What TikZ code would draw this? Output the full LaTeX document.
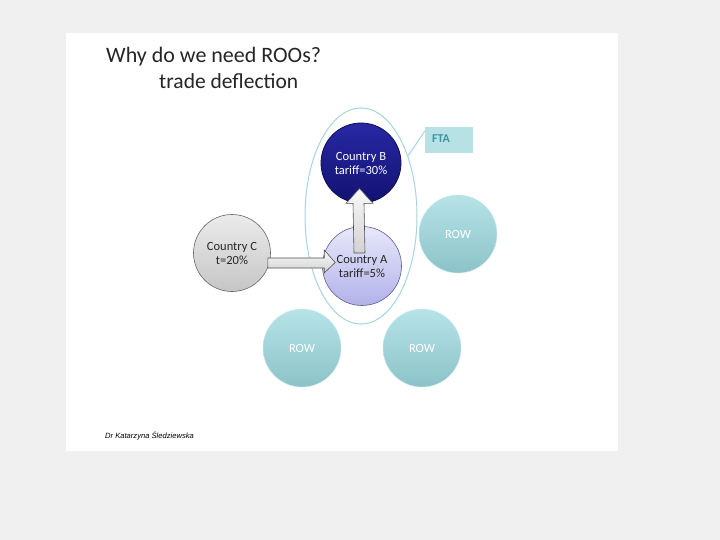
\documentclass[tikz,border=0pt]{standalone}
\usepackage{fontspec}
\setmainfont{Carlito}
\newfontfamily\footfont{Liberation Sans}
\usetikzlibrary{calc}
\definecolor{pagebg}{HTML}{F0F0F0}
\definecolor{rowtop}{HTML}{B6E3E7}
\definecolor{rowbot}{HTML}{8CC3C8}
\definecolor{ellcol}{HTML}{A6D6DB}
\definecolor{ftafill}{HTML}{B8E1E5}
\definecolor{ftatext}{HTML}{3A97A5}
\definecolor{bdark}{HTML}{14147E}
\definecolor{btop}{HTML}{2828A4}
\definecolor{atop}{HTML}{E8E8FB}
\definecolor{abot}{HTML}{B2B2EA}
\definecolor{aborder}{HTML}{5A5A9A}
\definecolor{ctop}{HTML}{EBEBEB}
\definecolor{cbot}{HTML}{C6C6C6}
\definecolor{arrline}{HTML}{505050}
\tikzset{
  country/.style={circle, minimum size=#1, inner sep=0pt, align=center,
    font=\fontsize{12.5}{14}\selectfont},
  rowcirc/.style={circle, minimum size=78pt, inner sep=0pt, top color=rowtop,
    bottom color=rowbot, draw=rowtop!70!white, line width=0.4pt, text=white,
    font=\fontsize{12.5}{14}\selectfont},
  blockarrow/.style={draw=arrline, line width=0.6pt, top color=white!95!gray,
    bottom color=gray!35, line join=miter},
}
\begin{document}
\begin{tikzpicture}[x=1pt,y=-1pt]
\fill[pagebg] (0,0) rectangle (720,540);
\useasboundingbox (0,0) rectangle (720,540);
\fill[white] (66,33) rectangle (618,451);

\node[anchor=base west, inner sep=0pt, font=\fontsize{22}{26}\selectfont, text=black!85] (title) at (106,63) {Why do we need ROOs?};
\node[anchor=base west, inner sep=0pt, font=\fontsize{21.5}{26}\selectfont, text=black!85] (subtitle) at (159,89) {trade deflection};

% FTA ellipse
\draw[ellcol, line width=1pt] (361,216) ellipse [x radius=56, y radius=108];
\coordinate (ellpt) at (408,156);
\node[fill=ftafill, minimum width=48pt, minimum height=26pt, inner sep=0pt] (fta) at (449,140) {};
\node[anchor=west, inner sep=0pt, font=\bfseries\fontsize{12}{14}\selectfont, text=ftatext] (ftatxt) at (432,139) {FTA};
\draw[ellcol, line width=1pt] (ellpt) -- (fta.west |- 0,131);

% ROW circles
\node[rowcirc] (row1) at (458,234) {ROW};
\node[rowcirc] (row2) at (302,348) {ROW};
\node[rowcirc] (row3) at (422,348) {ROW};

% Countries
\node[country=80pt, top color=btop, bottom color=bdark!90!black, draw=bdark!70!black, line width=0.8pt, text=white] (B) at (361,163) {Country B\\tariff=30\%};
\node[country=79pt, top color=atop, bottom color=abot, draw=aborder, line width=0.6pt, text=black!85] (A) at (362,266) {Country A\\tariff=5\%};
\node[country=77pt, top color=ctop, bottom color=cbot, draw=gray!80!black, line width=0.6pt, text=black!85] (C) at (232,253) {Country C\\t=20\%};

% horizontal block arrow C -> A
\draw[blockarrow]
  ($(C.east)+(-3,5)$) -- ($(A.west)+(2,-8)$) -- ($(A.west)+(2,-16)$)
  -- ($(A.west)+(13,-3.5)$) -- ($(A.west)+(2,7)$) -- ($(A.west)+(2,2)$)
  -- ($(C.east)+(-3,15)$) -- cycle;

% vertical block arrow A -> B
\draw[blockarrow]
  ($(A.center)+(-8,-13)$) -- ($(B.south)+(-8,0)$) -- ($(B.south)+(-15,0)$)
  -- ($(B.south)+(-1.5,-15)$) -- ($(B.south)+(12,0)$) -- ($(B.south)+(3,0)$)
  -- ($(A.center)+(3,-13)$) -- cycle;

\node[anchor=base west, inner sep=0pt, font=\footfont\itshape\fontsize{7.6}{9}\selectfont] (foot) at (105,438) {Dr Katarzyna Śledziewska};
\end{tikzpicture}
\end{document}
